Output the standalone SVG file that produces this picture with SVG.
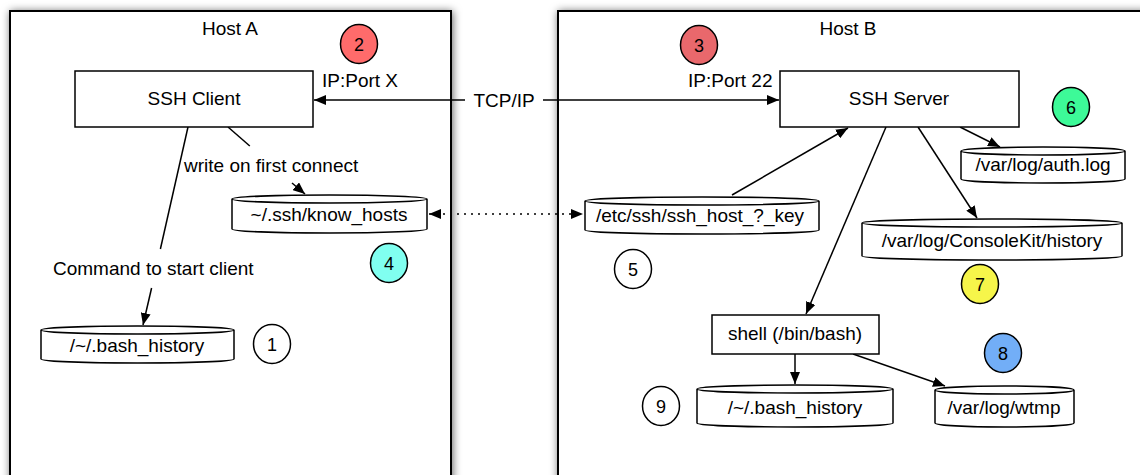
<svg xmlns="http://www.w3.org/2000/svg" width="1140" height="475" viewBox="0 0 1140 475">
<defs>
<style>
text{font-family:"Liberation Sans",Arial,Helvetica,sans-serif;font-size:19px;fill:#000}
.m{text-anchor:middle}
.host{fill:#fff;stroke:#000;stroke-width:2;filter:url(#sh)}
.box{fill:#fff;stroke:#000;stroke-width:1.5}
.cyl{fill:#fff;stroke:#000;stroke-width:1.5}
.num{fill:#fff;stroke:#000;stroke-width:1.5}
.num-t{font-size:18px;text-anchor:middle}
.c{fill:none;stroke:#000;stroke-width:1.5}
.arr{marker-end:url(#ah)}
.dot{stroke-dasharray:2,5}
</style>
<filter id="sh" x="-10%" y="-10%" width="120%" height="120%">
<feDropShadow dx="1" dy="1" stdDeviation="4" flood-color="#000" flood-opacity="0.6"/>
</filter>
<marker id="ah" viewBox="0 0 12 10" refX="12" refY="5" markerWidth="12" markerHeight="10" markerUnits="userSpaceOnUse" orient="auto-start-reverse">
<path d="M0,0 L12,5 L0,10 z" fill="#000"/>
</marker>
</defs>

<g id="hostA">
<rect class="host" x="10" y="11" width="441" height="490"/>
<text class="m" x="230" y="35">Host A</text>
</g>
<g id="hostB">
<rect class="host" x="558" y="11" width="620" height="490"/>
<text class="m" x="848" y="35">Host B</text>
</g>

<g id="connectors">
<path class="c" d="M465,100 H314" marker-end="url(#ah)"/>
<path class="c arr" d="M543,100 H779"/>
<text class="m" x="504" y="107">TCP/IP</text>
<path class="c dot" d="M429,214 H583" marker-start="url(#ah)" marker-end="url(#ah)"/>
<path class="c" d="M188,127 L160.4,249"/>
<path class="c arr" d="M151.6,288 L143,325"/>
<text x="53" y="275">Command to start client</text>
<path class="c" d="M228,127 L249.8,146"/>
<path class="c arr" d="M292,183 L305,194"/>
<text x="184" y="172">write on first connect</text>
<path class="c arr" d="M732,195 L848,128"/>
<path class="c arr" d="M886,127 L806,314"/>
<path class="c arr" d="M918,127 L977,218"/>
<path class="c arr" d="M960,127 L1000,147"/>
<path class="c arr" d="M795,354 V384"/>
<path class="c arr" d="M853,354 L945,386"/>
</g>

<g id="sshClient">
<rect class="box" x="75" y="71" width="238" height="56"/>
<text class="m" x="194" y="105">SSH Client</text>
</g>
<g id="sshServer">
<rect class="box" x="780" y="71" width="239" height="56"/>
<text class="m" x="899" y="105">SSH Server</text>
</g>
<g id="portX"><text x="322" y="87">IP:Port X</text></g>
<g id="port22"><text x="688" y="87">IP:Port 22</text></g>

<g id="bashHistoryA">
<path class="cyl" d="M41,330 a96.5,4 0 0 1 193,0 v29 a96.5,4 0 0 1 -193,0 z M41,330 a96.5,4 0 0 0 193,0"/>
<text class="m" x="137" y="352">/~/.bash_history</text>
</g>
<g id="knowHosts">
<path class="cyl" d="M232,199 a97.5,4 0 0 1 195,0 v30 a97.5,4 0 0 1 -195,0 z M232,199 a97.5,4 0 0 0 195,0"/>
<text class="m" x="329" y="221">~/.ssh/know_hosts</text>
</g>
<g id="sshHostKey">
<path class="cyl" d="M585,201 a117,4 0 0 1 234,0 v29 a117,4 0 0 1 -234,0 z M585,201 a117,4 0 0 0 234,0"/>
<text class="m" x="700" y="222">/etc/ssh/ssh_host_?_key</text>
</g>
<g id="authLog">
<path class="cyl" d="M961,151 a82,4 0 0 1 164,0 v28 a82,4 0 0 1 -164,0 z M961,151 a82,4 0 0 0 164,0"/>
<text class="m" x="1043" y="171">/var/log/auth.log</text>
</g>
<g id="consoleKit">
<path class="cyl" d="M862,223 a130,4 0 0 1 260,0 v33 a130,4 0 0 1 -260,0 z M862,223 a130,4 0 0 0 260,0"/>
<text class="m" x="992" y="247">/var/log/ConsoleKit/history</text>
</g>
<g id="shell">
<rect class="box" x="712" y="315" width="167" height="39"/>
<text class="m" x="795" y="340">shell (/bin/bash)</text>
</g>
<g id="bashHistoryB">
<path class="cyl" d="M697,389 a98,4 0 0 1 196,0 v34 a98,4 0 0 1 -196,0 z M697,389 a98,4 0 0 0 196,0"/>
<text class="m" x="795" y="414">/~/.bash_history</text>
</g>
<g id="wtmp">
<path class="cyl" d="M935,390 a69.5,4 0 0 1 139,0 v33 a69.5,4 0 0 1 -139,0 z M935,390 a69.5,4 0 0 0 139,0"/>
<text class="m" x="1004" y="414">/var/log/wtmp</text>
</g>

<g id="n1"><ellipse class="num" cx="272" cy="344" rx="18.5" ry="19.5"/><text class="num-t" x="272" y="350.5">1</text></g>
<g id="n2"><ellipse class="num" cx="359" cy="44" rx="18.5" ry="19.5" style="fill:#ff6b6b"/><text class="num-t" x="359" y="50.5">2</text></g>
<g id="n3"><ellipse class="num" cx="699" cy="45" rx="18.5" ry="19.5" style="fill:#e9686c"/><text class="num-t" x="699" y="51.5">3</text></g>
<g id="n4"><ellipse class="num" cx="389" cy="263" rx="18.5" ry="19.5" style="fill:#80fff0"/><text class="num-t" x="389" y="269.5">4</text></g>
<g id="n5"><ellipse class="num" cx="633" cy="269" rx="18.5" ry="19.5"/><text class="num-t" x="633" y="275.5">5</text></g>
<g id="n6"><ellipse class="num" cx="1071" cy="107" rx="18.5" ry="19.5" style="fill:#3dfa98"/><text class="num-t" x="1071" y="113.5">6</text></g>
<g id="n7"><ellipse class="num" cx="980" cy="284" rx="18.5" ry="19.5" style="fill:#f6f54a"/><text class="num-t" x="980" y="290.5">7</text></g>
<g id="n8"><ellipse class="num" cx="1003" cy="353" rx="18.5" ry="19.5" style="fill:#72aef7"/><text class="num-t" x="1003" y="359.5">8</text></g>
<g id="n9"><ellipse class="num" cx="661" cy="406" rx="18.5" ry="19.5"/><text class="num-t" x="661" y="412.5">9</text></g>
</svg>
